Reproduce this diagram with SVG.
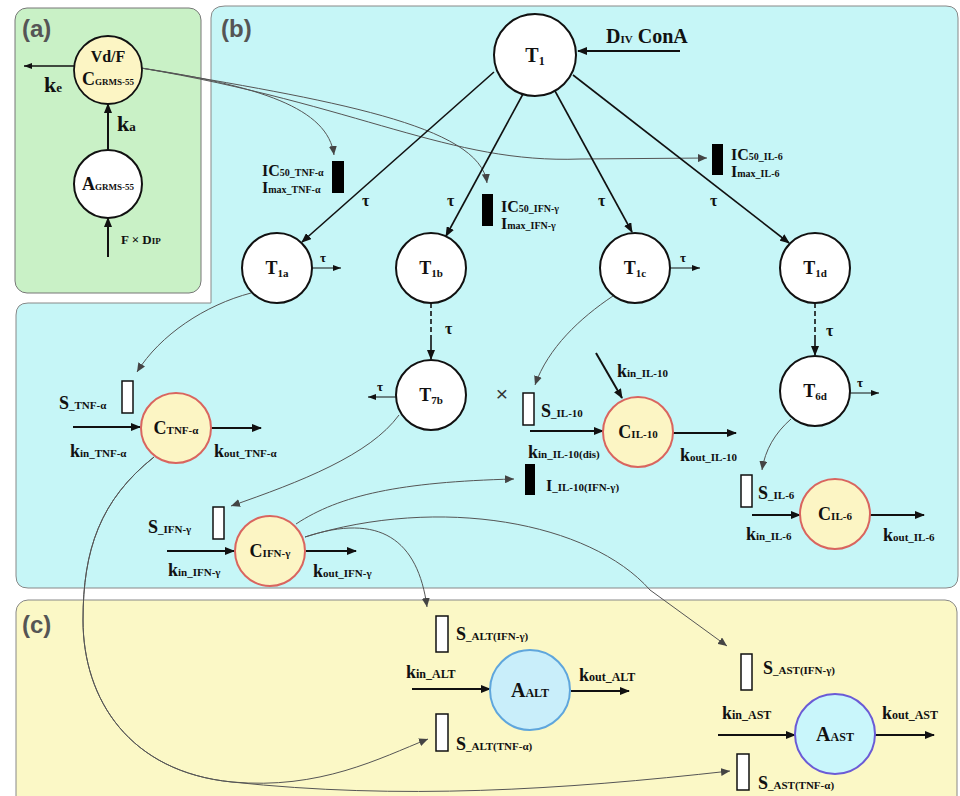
<svg xmlns="http://www.w3.org/2000/svg" width="960" height="796" viewBox="0 0 960 796">
<defs>
<style>
.t{font-family:"Liberation Serif","Times New Roman",serif;font-weight:bold;fill:#111}
.pl{font-family:"Liberation Sans",Arial,sans-serif;font-weight:bold;fill:#555;font-size:24px}
.b22{font-size:22px}.b20{font-size:20px}.b18{font-size:18px}.b16{font-size:16px}
.s13{font-size:13px}.s12{font-size:12px}.s11{font-size:11px}.s10{font-size:10px}
.wc{fill:#fff;stroke:#111;stroke-width:2}
.yc{fill:#fcf5c4;stroke:#d9655f;stroke-width:2}
.box{fill:#fff;stroke:#111;stroke-width:1.5}
.blk{fill:#000}
.main{fill:none;stroke:#111;stroke-width:2}
.med{fill:none;stroke:#111;stroke-width:1.6}
.thin{fill:none;stroke:#111;stroke-width:1}
.cur{fill:none;stroke:#555;stroke-width:1}
</style>
<marker id="am" markerUnits="userSpaceOnUse" markerWidth="10" markerHeight="8" refX="9" refY="4" orient="auto"><path d="M0,0 L10,4 L0,8 z" fill="#111"/></marker>
<marker id="as" markerUnits="userSpaceOnUse" markerWidth="8" markerHeight="6" refX="8" refY="3" orient="auto"><path d="M0,0 L8,3 L0,6 z" fill="#111"/></marker>
<marker id="ag" markerUnits="userSpaceOnUse" markerWidth="9" markerHeight="8" refX="9" refY="4" orient="auto"><path d="M0,0 L9,4 L0,8 z" fill="#444"/></marker>
</defs>

<!-- panels -->
<g id="panel-a">
<rect x="15" y="8" width="186" height="285" rx="12" fill="#c9f1c6" stroke="#777" stroke-width="1"/>
<text class="pl" x="22" y="37">(a)</text>
</g>
<g id="panel-b">
<path d="M225,6 H946 Q958,6 958,18 V576 Q958,588 946,588 H28 Q16,588 16,576 V315 Q16,303 28,303 H211 V18 Q211,6 225,6 Z" fill="#c6f6f7" stroke="#888" stroke-width="1"/>
<text class="pl" x="221" y="37">(b)</text>
</g>
<g id="panel-c">
<rect x="16" y="600" width="941" height="210" rx="12" fill="#fbf8c6" stroke="#888" stroke-width="1"/>
<text class="pl" x="22" y="633">(c)</text>
</g>

<!-- connectors -->
<g id="connectors">
<line class="main" x1="108" y1="151" x2="108" y2="104" marker-end="url(#am)"/>
<line class="main" x1="108" y1="257" x2="108" y2="218" marker-end="url(#am)"/>
<line class="med" x1="75" y1="66" x2="24" y2="66" marker-end="url(#as)"/>
<path class="cur" d="M141,68 C260,86 328,108 334,155" marker-end="url(#ag)"/>
<path class="cur" d="M141,68 C330,100 480,125 487,183" marker-end="url(#ag)"/>
<path class="cur" d="M141,68 C360,105 450,164 580,159 L707,158" marker-end="url(#ag)"/>
<line class="main" x1="680" y1="51" x2="578" y2="51" marker-end="url(#am)"/>
<line class="med" x1="494" y1="72" x2="302" y2="242" marker-end="url(#am)"/>
<line class="med" x1="523" y1="94" x2="446" y2="236" marker-end="url(#am)"/>
<line class="med" x1="555" y1="91" x2="632" y2="232" marker-end="url(#am)"/>
<line class="med" x1="573" y1="75" x2="789" y2="243" marker-end="url(#am)"/>
<line class="thin" x1="312" y1="268" x2="341" y2="268" marker-end="url(#as)"/>
<line class="thin" x1="670" y1="268" x2="700" y2="268" marker-end="url(#as)"/>
<line class="thin" x1="396" y1="397" x2="368" y2="397" marker-end="url(#as)"/>
<line class="thin" x1="850" y1="393" x2="879" y2="393" marker-end="url(#as)"/>
<line x1="431" y1="303" x2="431" y2="338" stroke="#111" stroke-width="1.6" stroke-dasharray="5,3"/>
<line class="med" x1="431" y1="338" x2="431" y2="359" marker-end="url(#am)"/>
<line x1="815" y1="303" x2="815" y2="336" stroke="#111" stroke-width="1.6" stroke-dasharray="5,3"/>
<line class="med" x1="815" y1="336" x2="815" y2="355" marker-end="url(#am)"/>
<path class="cur" d="M251,293 C205,305 160,335 137,372" marker-end="url(#ag)"/>
<path class="cur" d="M399,415 C370,455 300,482 231,506" marker-end="url(#ag)"/>
<path class="cur" d="M613,296 C580,318 548,348 535,385" marker-end="url(#ag)"/>
<path class="cur" d="M791,419 C775,433 765,450 762,470" marker-end="url(#ag)"/>
<line class="main" x1="73" y1="427" x2="140" y2="427" marker-end="url(#am)"/>
<line class="main" x1="211" y1="428" x2="261" y2="428" marker-end="url(#am)"/>
<line class="main" x1="167" y1="551" x2="234" y2="551" marker-end="url(#am)"/>
<line class="main" x1="306" y1="551" x2="356" y2="551" marker-end="url(#am)"/>
<line class="main" x1="596" y1="353" x2="622" y2="398" marker-end="url(#am)"/>
<line class="main" x1="530" y1="431" x2="603" y2="431" marker-end="url(#am)"/>
<line class="main" x1="673" y1="433" x2="736" y2="433" marker-end="url(#am)"/>
<line class="main" x1="752" y1="515" x2="800" y2="515" marker-end="url(#am)"/>
<line class="main" x1="870" y1="515" x2="924" y2="515" marker-end="url(#am)"/>
<path class="cur" d="M296,524 C340,495 400,482 514,479" marker-end="url(#ag)"/>
<path class="cur" d="M305,537 C380,512 418,540 427,607" marker-end="url(#ag)"/>
<path class="cur" d="M305,537 C440,495 590,522 650,590 L727,646" marker-end="url(#ag)"/>
<path class="cur" d="M154,457 C100,500 83,550 83,620 C83,700 130,772 232,782 C320,790 380,758 428,739" marker-end="url(#ag)"/>
<path class="cur" d="M154,457 C100,500 83,550 83,620 C83,700 130,772 232,782 C400,800 560,790 730,771" marker-end="url(#ag)"/>
<line class="main" x1="412" y1="689" x2="490" y2="689" marker-end="url(#am)"/>
<line class="main" x1="571" y1="691" x2="629" y2="691" marker-end="url(#am)"/>
<line class="main" x1="718" y1="735" x2="795" y2="735" marker-end="url(#am)"/>
<line class="main" x1="875" y1="735" x2="934" y2="735" marker-end="url(#am)"/>
</g>

<!-- panel a nodes -->
<g id="node-vdf">
<circle cx="108" cy="70" r="34" fill="#fcf5c4" stroke="#111" stroke-width="1.8"/>
<text class="t" x="108" y="62" text-anchor="middle" font-size="16">Vd/F</text>
<text class="t" x="108" y="85" text-anchor="middle"><tspan class="b18">C</tspan><tspan font-size="9">GRMS-55</tspan></text>
</g>
<g id="node-agrms">
<circle class="wc" cx="108" cy="184" r="34"/>
<text class="t" x="108" y="190" text-anchor="middle"><tspan class="b18">A</tspan><tspan font-size="9">GRMS-55</tspan></text>
</g>
<g id="lbl-a">
<text class="t" x="44" y="92"><tspan class="b22">k</tspan><tspan class="s13">e</tspan></text>
<text class="t" x="117" y="131"><tspan class="b22">k</tspan><tspan class="s13">a</tspan></text>
<text class="t" x="121" y="244"><tspan font-size="13">F × D</tspan><tspan font-size="9">IP</tspan></text>
</g>

<!-- T nodes -->
<g id="node-t1">
<circle class="wc" cx="535" cy="55" r="41"/>
<text class="t" x="535" y="62" text-anchor="middle"><tspan class="b20">T</tspan><tspan class="s12" dy="3">1</tspan></text>
</g>
<g id="node-t1a">
<circle class="wc" cx="277" cy="268" r="35"/>
<text class="t" x="277" y="274" text-anchor="middle"><tspan class="b18">T</tspan><tspan class="s11" dy="3">1a</tspan></text>
</g>
<g id="node-t1b">
<circle class="wc" cx="431" cy="268" r="35"/>
<text class="t" x="431" y="274" text-anchor="middle"><tspan class="b18">T</tspan><tspan class="s11" dy="3">1b</tspan></text>
</g>
<g id="node-t1c">
<circle class="wc" cx="635" cy="268" r="35"/>
<text class="t" x="635" y="274" text-anchor="middle"><tspan class="b18">T</tspan><tspan class="s11" dy="3">1c</tspan></text>
</g>
<g id="node-t1d">
<circle class="wc" cx="815" cy="268" r="35"/>
<text class="t" x="815" y="274" text-anchor="middle"><tspan class="b18">T</tspan><tspan class="s11" dy="3">1d</tspan></text>
</g>
<g id="node-t7b">
<circle class="wc" cx="431" cy="395" r="35"/>
<text class="t" x="431" y="401" text-anchor="middle"><tspan class="b18">T</tspan><tspan class="s11" dy="3">7b</tspan></text>
</g>
<g id="node-t6d">
<circle class="wc" cx="815" cy="391" r="35"/>
<text class="t" x="815" y="397" text-anchor="middle"><tspan class="b18">T</tspan><tspan class="s11" dy="3">6d</tspan></text>
</g>

<!-- labels of panel b -->
<g id="lbl-b">
<text class="t" x="606" y="43"><tspan class="b20">D</tspan><tspan class="s11">IV</tspan><tspan class="b20"> ConA</tspan></text>
<text class="t b16" x="362" y="206">τ</text>
<text class="t b16" x="447" y="206">τ</text>
<text class="t b16" x="598" y="206">τ</text>
<text class="t b16" x="710" y="206">τ</text>
<text class="t" x="320" y="262" font-size="13">τ</text>
<text class="t" x="680" y="262" font-size="13">τ</text>
<text class="t" x="377" y="391" font-size="13">τ</text>
<text class="t" x="857" y="387" font-size="13">τ</text>
<text class="t b16" x="445" y="334">τ</text>
<text class="t b16" x="826" y="336">τ</text>
<text x="502" y="401" text-anchor="middle" font-family="Liberation Sans,Arial,sans-serif" font-size="21" fill="#333">×</text>
<rect class="blk" x="332" y="161" width="12" height="32"/>
<text class="t" x="262" y="176"><tspan class="b16">IC</tspan><tspan class="s10">50_TNF-α</tspan></text>
<text class="t" x="262" y="193"><tspan class="b16">I</tspan><tspan class="s10">max_TNF-α</tspan></text>
<rect class="blk" x="482" y="194" width="11" height="32"/>
<text class="t" x="501" y="212"><tspan class="b16">IC</tspan><tspan class="s10">50_IFN-γ</tspan></text>
<text class="t" x="501" y="229"><tspan class="b16">I</tspan><tspan class="s10">max_IFN-γ</tspan></text>
<rect class="blk" x="712" y="144" width="11" height="31"/>
<text class="t" x="731" y="160"><tspan class="b16">IC</tspan><tspan class="s10">50_IL-6</tspan></text>
<text class="t" x="731" y="177"><tspan class="b16">I</tspan><tspan class="s10">max_IL-6</tspan></text>
</g>

<!-- cytokine nodes -->
<g id="node-ctnf">
<circle class="yc" cx="176" cy="428" r="35"/>
<text class="t" x="176" y="434" text-anchor="middle"><tspan class="b18">C</tspan><tspan class="s11">TNF-α</tspan></text>
</g>
<g id="lbl-tnf">
<rect class="box" x="122" y="381" width="11" height="32"/>
<text class="t" x="59" y="409"><tspan class="b18">S</tspan><tspan class="s11">_TNF-α</tspan></text>
<text class="t" x="70" y="457"><tspan class="b18">k</tspan><tspan class="s11">in_TNF-α</tspan></text>
<text class="t" x="214" y="457"><tspan class="b18">k</tspan><tspan class="s11">out_TNF-α</tspan></text>
</g>
<g id="node-cifn">
<circle class="yc" cx="270" cy="551" r="35"/>
<text class="t" x="270" y="557" text-anchor="middle"><tspan class="b18">C</tspan><tspan class="s11">IFN-γ</tspan></text>
</g>
<g id="lbl-ifn">
<rect class="box" x="213" y="507" width="11" height="32"/>
<text class="t" x="148" y="533"><tspan class="b18">S</tspan><tspan class="s11">_IFN-γ</tspan></text>
<text class="t" x="168" y="576"><tspan class="b18">k</tspan><tspan class="s11">in_IFN-γ</tspan></text>
<text class="t" x="313" y="577"><tspan class="b18">k</tspan><tspan class="s11">out_IFN-γ</tspan></text>
</g>
<g id="node-cil10">
<circle class="yc" cx="638" cy="432" r="35"/>
<text class="t" x="638" y="438" text-anchor="middle"><tspan class="b18">C</tspan><tspan class="s11">IL-10</tspan></text>
</g>
<g id="lbl-il10">
<rect class="box" x="523" y="393" width="11" height="32"/>
<text class="t" x="541" y="417"><tspan class="b18">S</tspan><tspan class="s11">_IL-10</tspan></text>
<text class="t" x="617" y="377"><tspan class="b18">k</tspan><tspan class="s11">in_IL-10</tspan></text>
<text class="t" x="528" y="458"><tspan class="b18">k</tspan><tspan class="s11">in_IL-10(dis)</tspan></text>
<text class="t" x="680" y="461"><tspan class="b18">k</tspan><tspan class="s11">out_IL-10</tspan></text>
<rect class="blk" x="525" y="464" width="10" height="31"/>
<text class="t" x="546" y="491"><tspan class="b16">I</tspan><tspan class="s11">_IL-10(IFN-γ)</tspan></text>
</g>
<g id="node-cil6">
<circle class="yc" cx="835" cy="514" r="35"/>
<text class="t" x="835" y="520" text-anchor="middle"><tspan class="b18">C</tspan><tspan class="s11">IL-6</tspan></text>
</g>
<g id="lbl-il6">
<rect class="box" x="741" y="475" width="11" height="32"/>
<text class="t" x="758" y="499"><tspan class="b18">S</tspan><tspan class="s11">_IL-6</tspan></text>
<text class="t" x="746" y="540"><tspan class="b18">k</tspan><tspan class="s11">in_IL-6</tspan></text>
<text class="t" x="883" y="541"><tspan class="b18">k</tspan><tspan class="s11">out_IL-6</tspan></text>
</g>

<!-- panel c nodes -->
<g id="node-alt">
<circle cx="530" cy="690" r="40" fill="#c9eefa" stroke="#5fa6dc" stroke-width="2"/>
<text class="t" x="530" y="697" text-anchor="middle"><tspan class="b20">A</tspan><tspan class="s12">ALT</tspan></text>
</g>
<g id="lbl-alt">
<rect class="box" x="436" y="616" width="12" height="36"/>
<text class="t" x="456" y="640"><tspan class="b18">S</tspan><tspan class="s11">_ALT(IFN-γ)</tspan></text>
<text class="t" x="406" y="678"><tspan class="b18">k</tspan><tspan class="s12">in_ALT</tspan></text>
<text class="t" x="579" y="681"><tspan class="b18">k</tspan><tspan class="s12">out_ALT</tspan></text>
<rect class="box" x="436" y="714" width="12" height="37"/>
<text class="t" x="456" y="750"><tspan class="b18">S</tspan><tspan class="s11">_ALT(TNF-α)</tspan></text>
</g>
<g id="node-ast">
<circle cx="835" cy="734" r="40" fill="#c9f6fb" stroke="#6b5bd6" stroke-width="2"/>
<text class="t" x="835" y="741" text-anchor="middle"><tspan class="b20">A</tspan><tspan class="s12">AST</tspan></text>
</g>
<g id="lbl-ast">
<rect class="box" x="741" y="654" width="11" height="36"/>
<text class="t" x="763" y="674"><tspan class="b18">S</tspan><tspan class="s11">_AST(IFN-γ)</tspan></text>
<text class="t" x="722" y="719"><tspan class="b18">k</tspan><tspan class="s12">in_AST</tspan></text>
<text class="t" x="882" y="719"><tspan class="b18">k</tspan><tspan class="s12">out_AST</tspan></text>
<rect class="box" x="737" y="754" width="12" height="36"/>
<text class="t" x="758" y="789"><tspan class="b18">S</tspan><tspan class="s11">_AST(TNF-α)</tspan></text>
</g>
</svg>
